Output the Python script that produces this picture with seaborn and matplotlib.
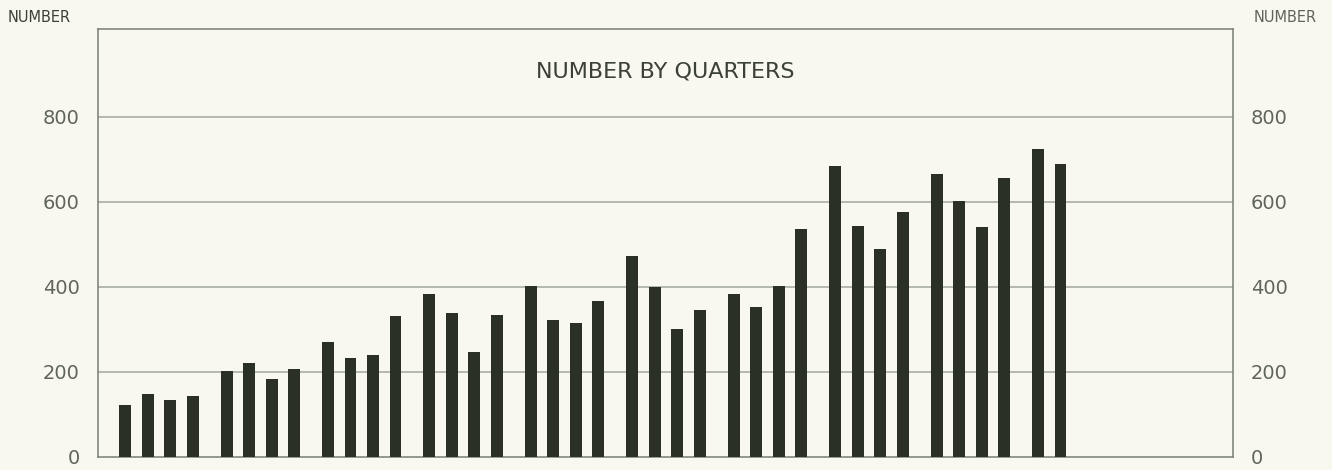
import numpy as np
import pandas as pd
import seaborn as sns
import matplotlib.pyplot as plt

# Quarterly counts (4 per year, last year only 2 quarters)
years = ['Y1', 'Y2', 'Y3', 'Y4', 'Y5', 'Y6', 'Y7', 'Y8', 'Y9', 'Y10', 'Y11']
quarters = ['Q1', 'Q2', 'Q3', 'Q4']
counts = [
    123, 147, 135, 143,
    202, 221, 183, 206,
    271, 232, 239, 331,
    383, 339, 247, 333,
    402, 323, 314, 367,
    472, 400, 301, 346,
    384, 353, 402, 536,
    685, 544, 490, 575,
    666, 602, 540, 656,
    724, 688,
]
y_ticks = [0, 200, 400, 600, 800]

df = pd.DataFrame({
    'year': [years[i // 4] for i in range(len(counts))],
    'quarter': [quarters[i % 4] for i in range(len(counts))],
    'count': counts,
})

bg = '#f8f8ee'
bar_color = '#2b3027'
grid_color = '#a3a79d'
text_color = '#60655b'

sns.set_style('white')
plt.rcParams['font.family'] = ['DejaVu Sans']

fig = plt.figure(figsize=(13.32, 4.70), dpi=100, facecolor=bg)
ax = fig.add_axes([0.0736, 0.0277, 0.8521, 0.9106])
ax.set_facecolor(bg)

sns.barplot(data=df, x='year', y='count', hue='quarter', order=years,
            hue_order=quarters, palette=[bar_color] * 4, saturation=1,
            width=0.887, gap=0.47, legend=False, linewidth=0, ax=ax, zorder=3)

ax.set_xlim(-0.6, 10.59)
ax.set_ylim(0, 1006)
ax.set_xticks([])
ax.set_yticks(y_ticks)
ax.set_yticklabels([str(v) for v in y_ticks])
ax.tick_params(axis='y', length=0, pad=13, labelsize=14, labelcolor=text_color,
               labelleft=True, labelright=True)
for v in y_ticks[1:]:
    ax.axhline(v, color=grid_color, lw=1.1, zorder=1)
for s in ax.spines.values():
    s.set_color('#7a7f73')
    s.set_linewidth(1.1)
ax.set_xlabel('')
ax.set_ylabel('')

ax.text(0.5, 0.9, 'NUMBER BY QUARTERS', transform=ax.transAxes, ha='center',
        va='center', fontsize=16, color='#3c4138')
fig.text(8 / 1332, 1 - 17 / 470, 'NUMBER', ha='left', va='center',
         fontsize=10.5, color='#3c4138')
fig.text(1317 / 1332, 1 - 17 / 470, 'NUMBER', ha='right', va='center',
         fontsize=10.5, color=text_color)

fig.savefig('out.png', dpi=100, facecolor=bg)
